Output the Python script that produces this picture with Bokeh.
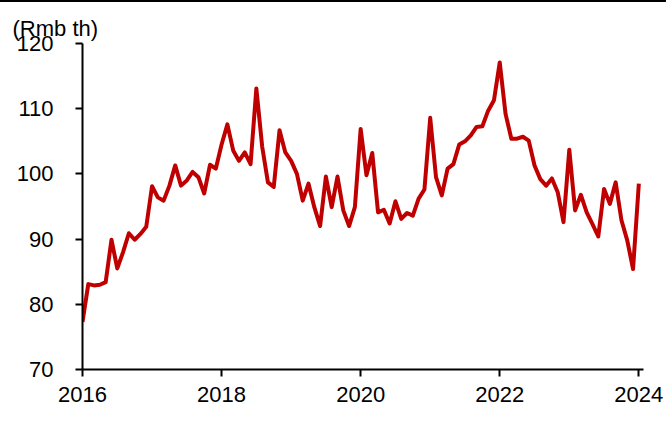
from bokeh.plotting import figure
from bokeh.models import Range1d, FixedTicker, Legend, Title, Div
from bokeh.layouts import column
from bokeh.embed import file_html
from bokeh.resources import INLINE

# Monthly average second-hand car price, Rmb thousand, Jan 2016 - Jan 2024
start_year = 2016
price = [
    77.3, 83.1, 82.9, 83.0, 83.4, 89.9, 85.5, 88.0, 90.9, 89.9, 90.8, 91.9,       # 2016
    98.1, 96.4, 95.9, 98.2, 101.3, 98.2, 99.0, 100.3, 99.5, 97.0, 101.4, 100.8,   # 2017
    104.5, 107.6, 103.6, 102.0, 103.3, 101.5, 113.1, 104.2, 98.7, 98.0, 106.7, 103.3,  # 2018
    102.0, 100.0, 95.9, 98.5, 94.9, 92.0, 99.6, 94.9, 99.6, 94.4, 92.0, 94.9,     # 2019
    106.9, 99.8, 103.2, 94.1, 94.5, 92.4, 95.8, 93.1, 94.0, 93.6, 96.2, 97.6,     # 2020
    108.6, 99.5, 96.7, 100.8, 101.5, 104.5, 105.0, 105.9, 107.2, 107.3, 109.7, 111.3,  # 2021
    117.1, 109.2, 105.4, 105.4, 105.7, 105.1, 101.3, 99.2, 98.2, 99.3, 97.2, 92.6,     # 2022
    103.7, 94.4, 96.8, 94.1, 92.3, 90.4, 97.7, 95.4, 98.7, 92.9, 89.8, 85.4,      # 2023
    98.5,                                                                         # 2024
]
series_name = "Second-hand car price"
unit_label = "(Rmb th)"
x_ticks = [2016, 2018, 2020, 2022, 2024]
y_ticks = [70, 80, 90, 100, 110, 120]

t = [start_year + i / 12 for i in range(len(price))]

FONT = "Liberation Sans"
RED = "#C00000"

p = figure(
    width=666, height=437,
    frame_width=561, frame_height=326,
    output_backend="svg", toolbar_location=None,
    x_range=Range1d(2016, 2024.067), y_range=Range1d(70, 120),
    min_border_left=82, min_border_right=23,
    min_border_top=41, min_border_bottom=0,
)
p.outline_line_color = None
p.grid.visible = False
p.background_fill_color = "white"
p.border_fill_color = "white"

r = p.line(t, price, line_color=RED, line_width=4, line_join="round")

for ax in (p.xaxis[0], p.yaxis[0]):
    ax.axis_line_color = "black"
    ax.axis_line_width = 2
    ax.major_tick_line_color = "black"
    ax.major_tick_line_width = 2
    ax.major_tick_in = 0
    ax.major_tick_out = 7
    ax.minor_tick_line_color = None
    ax.major_label_text_font = FONT
    ax.major_label_text_font_size = "22px"
    ax.major_label_text_color = "black"

p.xaxis[0].ticker = FixedTicker(ticks=x_ticks)
p.xaxis[0].major_label_overrides = {v: str(v) for v in x_ticks}
p.xaxis[0].major_label_standoff = 10
p.yaxis[0].ticker = FixedTicker(ticks=y_ticks)
p.yaxis[0].major_label_standoff = 22

p.add_layout(Title(text=unit_label, align="left", offset=-70,
                   text_font=FONT, text_font_size="22px",
                   text_font_style="normal", text_color="black",
                   standoff=6), "above")

# legend row directly under the x axis labels
legend = Legend(items=[(series_name, [r])], location="top_center",
                orientation="horizontal", glyph_width=52, glyph_height=22,
                label_height=22, label_width=267,
                label_text_font=FONT, label_text_font_size="22px",
                label_text_color="black",
                label_standoff=6, padding=0, margin=0, spacing=0,
                border_line_color=None, background_fill_alpha=0)
p.add_layout(legend, "below")

# thin black rule across the top of the page
rule = Div(text="", width=666, height=2, margin=0,
           styles={"background-color": "black"})

page = column(rule, p, spacing=0)
open("out.html", "w").write(file_html(page, INLINE))
